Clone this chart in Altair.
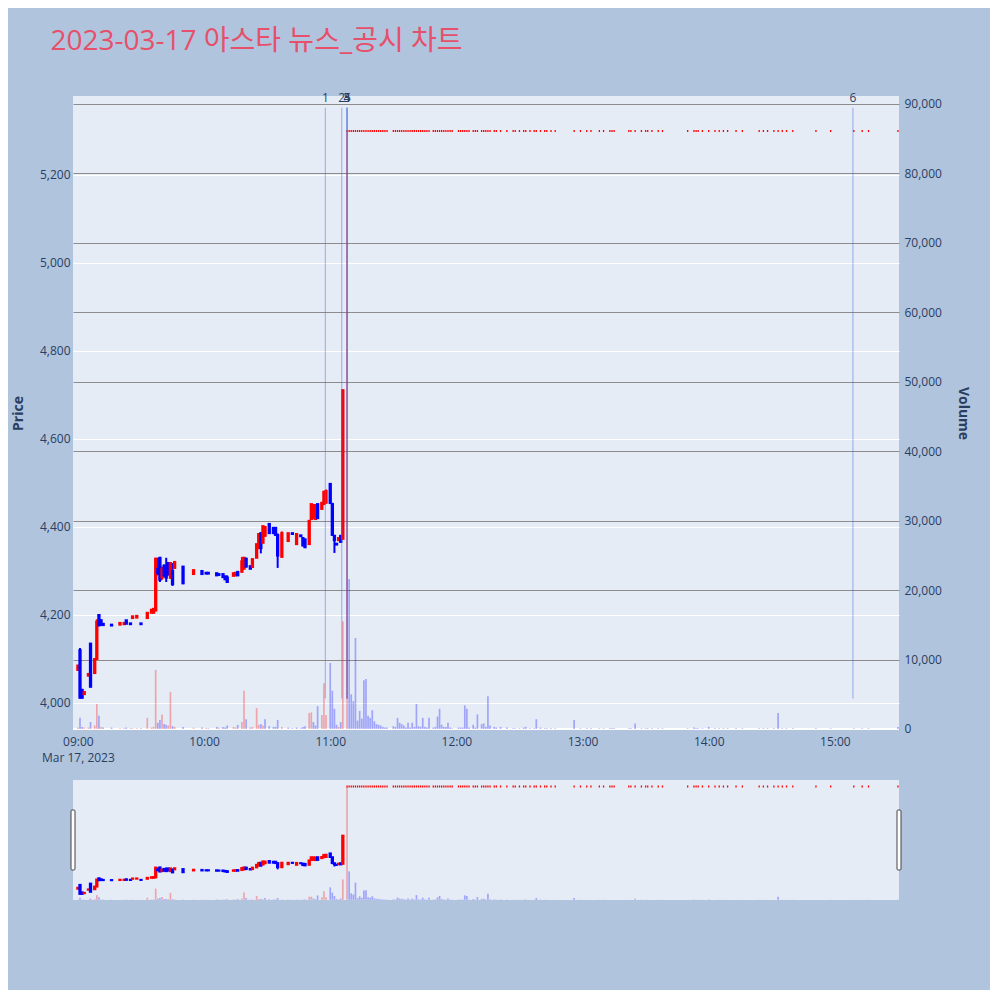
import altair as alt
import pandas as pd

DAY = "2023-03-17"
TITLE = "2023-03-17 아스타 뉴스_공시 차트"

# ---- minute candles before the limit-up ----
c_time = ["09:00", "09:01", "09:02", "09:03", "09:05", "09:06", "09:08", "09:09", "09:10", "09:11",
          "09:12", "09:16", "09:20", "09:22", "09:23", "09:25", "09:26", "09:28", "09:30", "09:33",
          "09:35", "09:36", "09:37", "09:38", "09:39", "09:40", "09:41", "09:42", "09:43", "09:44",
          "09:45", "09:46", "09:50", "09:55", "09:59", "10:01", "10:02", "10:06", "10:07", "10:09",
          "10:10", "10:11", "10:14", "10:15", "10:16", "10:18", "10:19", "10:20", "10:22", "10:23",
          "10:25", "10:26", "10:27", "10:28", "10:29", "10:31", "10:33", "10:34", "10:35", "10:37",
          "10:40", "10:42", "10:44", "10:46", "10:47", "10:48", "10:50", "10:51", "10:52", "10:53",
          "10:54", "10:56", "10:57", "10:58", "11:00", "11:01", "11:02", "11:03", "11:04", "11:05",
          "11:06"]
c_open = [4075, 4120, 4030, 4020, 4062, 4135, 4068, 4100, 4200, 4188,
          4180, 4178, 4178, 4179, 4188, 4181, 4193, 4194, 4181, 4193,
          4205, 4205, 4210, 4305, 4330, 4285, 4312, 4300, 4318, 4285,
          4300, 4307, 4310, 4293, 4300, 4296, 4296, 4295, 4293, 4293,
          4288, 4285, 4289, 4290, 4298, 4298, 4305, 4328, 4311, 4309,
          4330, 4352, 4386, 4364, 4380, 4407, 4398, 4398, 4382, 4332,
          4368, 4386, 4361, 4381, 4375, 4372, 4361, 4418, 4420, 4418,
          4452, 4441, 4452, 4455, 4498, 4452, 4380, 4362, 4370, 4380,
          4373]
c_high = [4085, 4125, 4030, 4025, 4066, 4135, 4100, 4190, 4200, 4190,
          4180, 4178, 4182, 4182, 4188, 4181, 4197, 4198, 4181, 4205,
          4212, 4214, 4330, 4330, 4332, 4310, 4315, 4330, 4320, 4320,
          4318, 4323, 4311, 4302, 4300, 4296, 4296, 4295, 4293, 4293,
          4288, 4290, 4295, 4296, 4298, 4332, 4332, 4330, 4311, 4327,
          4361, 4384, 4386, 4402, 4402, 4407, 4398, 4400, 4385, 4390,
          4386, 4386, 4384, 4381, 4375, 4372, 4414, 4452, 4452, 4452,
          4452, 4455, 4482, 4485, 4500, 4455, 4382, 4362, 4375, 4380,
          4711]
c_low = [4075, 4010, 4010, 4020, 4062, 4035, 4068, 4100, 4175, 4176,
         4176, 4176, 4178, 4179, 4180, 4179, 4193, 4194, 4179, 4193,
         4205, 4205, 4210, 4290, 4275, 4280, 4285, 4275, 4290, 4282,
         4266, 4305, 4270, 4293, 4293, 4294, 4294, 4289, 4290, 4285,
         4280, 4273, 4289, 4290, 4289, 4298, 4305, 4308, 4305, 4309,
         4330, 4352, 4340, 4364, 4378, 4384, 4385, 4380, 4307, 4332,
         4368, 4384, 4361, 4379, 4356, 4352, 4361, 4418, 4420, 4418,
         4418, 4441, 4450, 4455, 4452, 4380, 4341, 4360, 4370, 4364,
         4373]
c_close = [4085, 4012, 4012, 4025, 4066, 4037, 4100, 4185, 4176, 4178,
           4177, 4176, 4182, 4182, 4180, 4179, 4197, 4198, 4179, 4205,
           4212, 4214, 4328, 4295, 4280, 4305, 4290, 4285, 4292, 4318,
           4270, 4320, 4272, 4302, 4293, 4294, 4294, 4290, 4291, 4286,
           4281, 4275, 4295, 4296, 4290, 4322, 4330, 4310, 4305, 4327,
           4361, 4384, 4352, 4402, 4400, 4386, 4386, 4382, 4335, 4386,
           4386, 4384, 4384, 4379, 4358, 4354, 4414, 4452, 4450, 4450,
           4420, 4455, 4480, 4482, 4455, 4382, 4370, 4360, 4375, 4366,
           4711]
c_vol = [200, 1600, 300, 200, 200, 1000, 500, 3600, 1900, 300,
         200, 200, 100, 100, 200, 100, 100, 100, 100, 1600,
         200, 300, 8500, 900, 1300, 2100, 700, 600, 500, 5300,
         400, 300, 300, 200, 200, 100, 100, 300, 200, 300,
         200, 500, 300, 200, 600, 1000, 5500, 1400, 200, 300,
         3000, 600, 700, 500, 1400, 400, 300, 300, 1300, 300,
         200, 100, 200, 100, 300, 400, 2300, 2400, 1000, 500,
         3300, 2000, 6600, 2000, 9500, 5500, 2900, 600, 300, 1000,
         15500]

# ---- trades at the upper limit (open = high = low = close) ----
LIMIT_PRICE = 5300
lu_time = ["11:08", "11:09", "11:10", "11:11", "11:12", "11:13", "11:14", "11:15", "11:16", "11:17",
           "11:18", "11:19", "11:20", "11:21", "11:22", "11:23", "11:24", "11:25", "11:26", "11:27",
           "11:30", "11:31", "11:32", "11:33", "11:34", "11:35", "11:36", "11:37", "11:38", "11:39",
           "11:40", "11:41", "11:42", "11:43", "11:44", "11:45", "11:46", "11:47", "11:49", "11:50",
           "11:51", "11:52", "11:53", "11:54", "11:55", "11:56", "11:57", "11:58", "12:01", "12:02",
           "12:03", "12:04", "12:05", "12:06", "12:08", "12:09", "12:10", "12:12", "12:13", "12:14",
           "12:15", "12:16", "12:18", "12:19", "12:21", "12:24", "12:27", "12:28", "12:30", "12:32",
           "12:33", "12:35", "12:37", "12:38", "12:40", "12:42", "12:43", "12:45", "12:47", "12:56",
           "12:59", "13:02", "13:04", "13:08", "13:10", "13:13", "13:14", "13:15", "13:22", "13:23",
           "13:25", "13:28", "13:30", "13:31", "13:33", "13:36", "13:38", "13:50", "13:53", "13:54",
           "13:55", "13:57", "14:00", "14:03", "14:05", "14:07", "14:09", "14:13", "14:16", "14:24",
           "14:26", "14:28", "14:31", "14:33", "14:35", "14:37", "14:40", "14:51", "14:58", "15:09",
           "15:13", "15:16", "15:30"]
lu_vol = [86000, 21600, 5000, 4000, 13100, 1200, 2600, 1500, 7000, 7200,
          1900, 1600, 2700, 1100, 700, 600, 500, 300, 200, 200,
          400, 300, 1600, 900, 700, 500, 200, 900, 200, 900,
          300, 3600, 400, 300, 1600, 300, 200, 1600, 200, 300,
          1800, 2900, 600, 300, 300, 900, 200, 100, 200, 200,
          200, 3400, 2900, 200, 600, 200, 2100, 700, 800, 300,
          4700, 500, 300, 200, 300, 200, 100, 100, 100, 200,
          300, 100, 100, 1400, 200, 100, 100, 100, 100, 1300,
          100, 100, 100, 100, 100, 100, 100, 100, 100, 100,
          800, 100, 100, 100, 100, 100, 100, 100, 200, 100,
          100, 100, 300, 100, 100, 100, 100, 100, 100, 100,
          100, 100, 100, 2300, 100, 100, 100, 100, 100, 100,
          100, 100, 300]

# ---- news / disclosure markers ----
news_label = ["1", "2", "3", "4", "5", "6"]
news_time = ["10:57:40", "11:05:30", "11:07:50", "11:08:00", "11:08:10", "15:08:36"]
NEWS_LOW = 4010
NEWS_HIGH = 5353

price_ticks = [4000, 4200, 4400, 4600, 4800, 5000, 5200]
volume_ticks = [0, 10000, 20000, 30000, 40000, 50000, 60000, 70000, 80000, 90000]
hour_ticks = [9, 10, 11, 12, 13, 14, 15]

UP = "#ff0000"
DOWN = "#0000ff"
TXT = "#2a3f5f"
FONT = "Open Sans"

# ---- build the table ----
times = c_time + lu_time
opens = c_open + [LIMIT_PRICE] * len(lu_time)
highs = c_high + [LIMIT_PRICE] * len(lu_time)
lows = c_low + [LIMIT_PRICE] * len(lu_time)
closes = c_close + [LIMIT_PRICE] * len(lu_time)
vols = c_vol + lu_vol

cc, vc = [], []
prev_c, prev_d = None, 1
for o, c in zip(opens, closes):
    if c > o:
        d = 1
    elif c < o:
        d = -1
    elif prev_c is None or c == prev_c:
        d = prev_d
    else:
        d = 1 if c > prev_c else -1
    cc.append(UP if d == 1 else DOWN)
    if prev_c is None:
        vc.append(UP if c >= o else DOWN)
    else:
        vc.append(UP if c > prev_c else DOWN)
    prev_c, prev_d = c, d

df = pd.DataFrame({
    "t": [f"{DAY}T{x}:00" for x in times],
    "open": opens, "high": highs, "low": lows, "close": closes,
    "bot": [min(o, c) for o, c in zip(opens, closes)],
    "top": [max(o, c) for o, c in zip(opens, closes)],
    "vol": vols, "cc": cc, "vc": vc,
})
news = pd.DataFrame({
    "t": [f"{DAY}T{x}" for x in news_time],
    "label": news_label,
    "lo": [NEWS_LOW] * len(news_label),
    "hi": [NEWS_HIGH] * len(news_label),
})
zero_df = pd.DataFrame({"v": [0]})
handles = pd.DataFrame({"t": [f"{DAY}T08:57:40", f"{DAY}T15:30:30"]})

x_dom = [alt.DateTime(year=2023, month=3, date=17, hours=8, minutes=57, seconds=40),
         alt.DateTime(year=2023, month=3, date=17, hours=15, minutes=30, seconds=30)]
x_scale = alt.Scale(domain=x_dom, padding=0, nice=False)
p_scale = alt.Scale(domain=[3938.6, 5379.5], zero=False, nice=False)
v_scale = alt.Scale(domain=[-150, 91150], zero=False, nice=False)

x_axis = alt.Axis(
    values=[alt.DateTime(year=2023, month=3, date=17, hours=h) for h in hour_ticks],
    labelExpr="hours(datum.value) == 9 ? [timeFormat(datum.value, '%H:%M'), 'Mar 17, 2023'] : timeFormat(datum.value, '%H:%M')",
    grid=False, domain=False, ticks=False, labelPadding=6, labelFontSize=12,
    labelColor=TXT, labelFont=FONT, labelLineHeight=16, labelAngle=0, labelOverlap=False,
)
price_axis = alt.Axis(
    values=price_ticks, format=",.0f", title="Price", grid=True, gridColor="white", gridWidth=1,
    domain=False, ticks=False, labelPadding=3, labelFontSize=12, labelColor=TXT, labelFont=FONT,
    titleFontSize=14, titleFontWeight="bold", titleColor=TXT, titleFont=FONT, titlePadding=14,
)
vol_axis = alt.Axis(
    values=volume_ticks, format=",.0f", title="Volume", orient="right", grid=True,
    gridColor="#8c8c8c", gridWidth=1, domain=False, ticks=False, labelPadding=5,
    labelFontSize=12, labelColor=TXT, labelFont=FONT, titleFontSize=14, titleFontWeight="bold",
    titleColor=TXT, titleFont=FONT, titlePadding=14,
)


def build(height, with_axes, with_news, with_handles):
    X = alt.X("t:T", scale=x_scale, axis=x_axis if with_axes else None, title=None)
    pa = price_axis if with_axes else None
    va = vol_axis if with_axes else None
    base = alt.Chart(df)
    wick = base.mark_rule(strokeWidth=2).encode(
        x=X, y=alt.Y("low:Q", scale=p_scale, axis=pa, title="Price"), y2="high:Q",
        color=alt.Color("cc:N", scale=None))
    body = base.mark_bar(size=1.3, strokeWidth=2).encode(
        x=X, y=alt.Y("bot:Q", scale=p_scale, axis=pa, title="Price"), y2="top:Q",
        color=alt.Color("cc:N", scale=None), stroke=alt.Stroke("cc:N", scale=None))
    price_layers = [wick, body]
    if with_news:
        nl = alt.Chart(news).mark_rule(color="royalblue", opacity=0.5, strokeWidth=1).encode(
            x=X, y=alt.Y("lo:Q", scale=p_scale, axis=pa, title="Price"), y2="hi:Q")
        nt = alt.Chart(news).mark_text(fontSize=12, color=TXT, baseline="alphabetic", font=FONT).encode(
            x=X, y=alt.value(6), text="label:N")
        price_layers += [nl, nt]
    vol = base.mark_bar(size=1.7, opacity=0.3).encode(
        x=X, y=alt.Y("vol:Q", scale=v_scale, axis=va, title="Volume"), y2=alt.datum(0),
        color=alt.Color("vc:N", scale=None))
    vol_layers = []
    if with_axes:
        zero = alt.Chart(zero_df).mark_rule(color="white", strokeWidth=2).encode(
            y=alt.Y("v:Q", scale=v_scale, axis=va, title="Volume"))
        vol_layers.append(zero)
    vol_layers.append(vol)
    if with_handles:
        hd = alt.Chart(handles).mark_rect(fill="white", stroke="#444444", strokeWidth=1,
                                          cornerRadius=1, xOffset=-2, x2Offset=2).encode(
            x=X, x2="t:T", y=alt.value(30), y2=alt.value(90))
        vol_layers.append(hd)
    return alt.layer(alt.layer(*price_layers), alt.layer(*vol_layers)).resolve_scale(
        y="independent").properties(width=826, height=height)


main = build(634, True, True, False)
slider = build(120, False, False, True)

chart = alt.vconcat(main, slider, spacing=17).properties(
    title=alt.TitleParams(TITLE, anchor="start", frame="bounds", fontSize=28,
                          font="Open Sans, Noto Sans CJK KR", fontWeight="normal",
                          color="#E6506A", offset=36, dx=39),
    background="#B0C4DE",
    padding={"left": 3, "top": 20, "right": 20, "bottom": 90},
).configure_view(stroke=None, fill="#E5ECF6")

chart.save("out.html", embed_options={"renderer": "svg", "actions": False})
